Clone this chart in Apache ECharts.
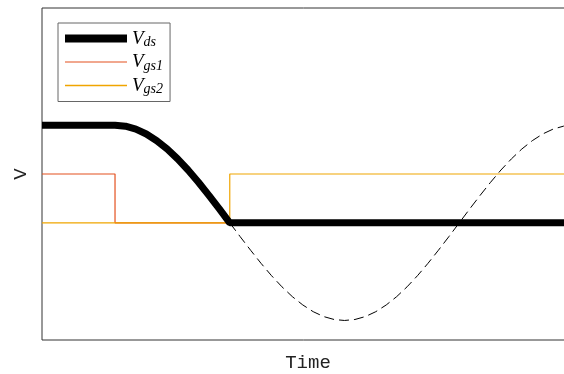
<!DOCTYPE html>
<html>
<head>
<meta charset="utf-8">
<script src="https://cdn.jsdelivr.net/npm/echarts@6/dist/echarts.min.js"></script>
<style>
html,body{margin:0;padding:0;overflow:hidden;background:#fff;}
#c{width:564px;height:374px;}
</style>
</head>
<body>
<div id="c"></div>
<script>
// Data (time in arbitrary units, voltage in arbitrary units)
const seriesNames = ['V_ds', 'V_gs1', 'V_gs2'];
const vdsSolid = [
  [0, 1], [1.4, 1], [1.6, 0.990], [1.8, 0.960], [2.0, 0.910], [2.2, 0.841],
  [2.4, 0.756], [2.6, 0.655], [2.8, 0.541], [3.0, 0.415], [3.2, 0.281],
  [3.4, 0.142], [3.6, 0], [10.2, 0]
];
const vdsDashed = [
  [3.6, 0], [3.8, -0.142], [4.0, -0.281], [4.2, -0.415], [4.4, -0.541],
  [4.6, -0.655], [4.8, -0.756], [5.0, -0.841], [5.2, -0.910], [5.4, -0.960],
  [5.6, -0.990], [5.8, -1.0], [6.0, -0.990], [6.2, -0.960], [6.4, -0.910],
  [6.6, -0.841], [6.8, -0.756], [7.0, -0.655], [7.2, -0.541], [7.4, -0.415],
  [7.6, -0.281], [7.8, -0.142], [8.0, 0], [8.2, 0.142], [8.4, 0.281],
  [8.6, 0.415], [8.8, 0.541], [9.0, 0.655], [9.2, 0.756], [9.4, 0.841],
  [9.6, 0.910], [9.8, 0.960], [10.0, 0.990], [10.2, 1.0]
];
const vgs1 = [[0, 0.5], [1.4, 0.5], [1.4, 0], [10.2, 0]];
const vgs2 = [[0, 0], [3.6, 0], [3.6, 0.5], [10.2, 0.5]];
const xRange = [0, 10.2];
const yRange = [-1.2, 2.2];

const colors = { 'V_ds': '#000', 'V_gs1': '#e4501e', 'V_gs2': '#f0a500' };
const legendWidths = { 'V_ds': 8, 'V_gs1': 1.2, 'V_gs2': 1.5 };
const subs = { 'V_ds': 'ds', 'V_gs1': 'gs1', 'V_gs2': 'gs2' };

const chart = echarts.init(document.getElementById('c'));
chart.setOption({
  animation: false,
  grid: { left: 42, width: 532, top: 8, height: 332, outerBoundsMode: 'none', containLabel: false,
          show: true, borderColor: '#333', borderWidth: 1, backgroundColor: 'transparent' },
  xAxis: {
    type: 'value', min: xRange[0], max: xRange[1],
    name: 'Time', nameLocation: 'middle', nameGap: 13,
    nameTextStyle: { fontFamily: 'Liberation Mono', fontSize: 19, color: '#222' },
    axisLine: { show: false }, axisTick: { show: false }, axisLabel: { show: false }, splitLine: { show: false }
  },
  yAxis: {
    type: 'value', min: yRange[0], max: yRange[1],
    name: 'V', nameLocation: 'middle', nameGap: 12, nameRotate: 90,
    nameTextStyle: { fontFamily: 'Liberation Mono', fontSize: 19, color: '#222' },
    axisLine: { show: false }, axisTick: { show: false }, axisLabel: { show: false }, splitLine: { show: false }
  },
  legend: {
    data: seriesNames.map(n => ({ name: n, lineStyle: { width: legendWidths[n], color: colors[n] } })),
    orient: 'vertical', left: 58, top: 23,
    padding: [6, 7, 5, 3], itemWidth: 62, itemHeight: 8, itemGap: 3,
    itemStyle: { opacity: 0 },
    borderColor: '#666', borderWidth: 1, backgroundColor: '#fff',
    formatter: function (n) { return '{v|V}{s|' + subs[n] + '}'; },
    textStyle: {
      rich: {
        v: { fontFamily: 'Liberation Serif', fontStyle: 'italic', fontSize: 19, color: '#000' },
        s: { fontFamily: 'Liberation Serif', fontStyle: 'italic', fontSize: 14, color: '#000', padding: [8, 0, 0, 0] }
      }
    }
  },
  series: [
    { name: 'dashed', type: 'line', data: vdsDashed, symbol: 'none', z: 1,
      lineStyle: { color: '#000', width: 1, type: [10, 5] } },
    { name: 'V_gs1', type: 'line', data: vgs1, symbol: 'none', z: 2,
      lineStyle: { color: colors['V_gs1'], width: 1.2 }, itemStyle: { color: colors['V_gs1'] } },
    { name: 'V_gs2', type: 'line', data: vgs2, symbol: 'none', z: 3,
      lineStyle: { color: colors['V_gs2'], width: 1.2 }, itemStyle: { color: colors['V_gs2'] } },
    { name: 'V_ds', type: 'line', data: vdsSolid, symbol: 'none', z: 4,
      lineStyle: { color: '#000', width: 7 }, itemStyle: { color: '#000' } }
  ]
});
</script>
</body>
</html>
